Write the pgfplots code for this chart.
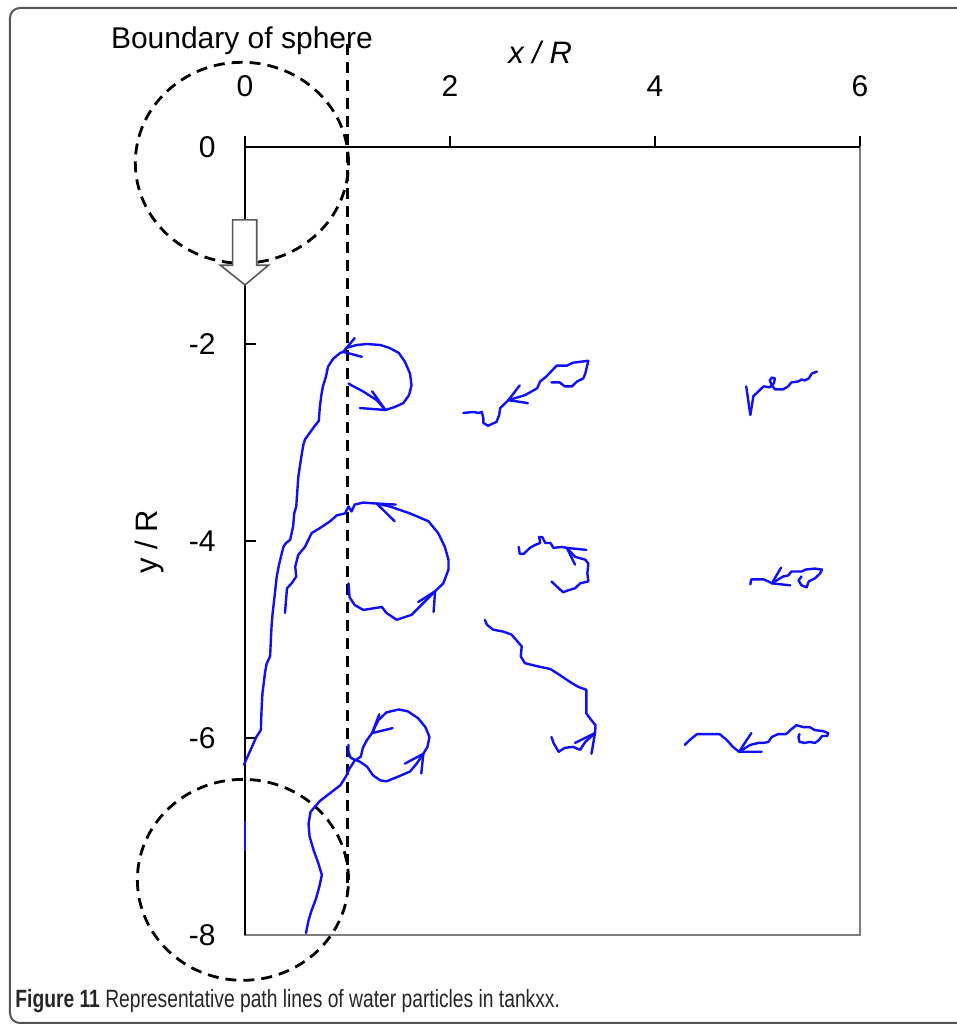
\documentclass[border=0pt]{standalone}
\usepackage{fontspec}
\setmainfont{Liberation Sans}
\usepackage{graphicx}
\usepackage{pgfplots}
\pgfplotsset{compat=1.18}

\definecolor{pathblue}{RGB}{15,15,250}
\definecolor{boxgray}{RGB}{125,125,125}
\definecolor{framegray}{RGB}{85,85,85}

\tikzset{
  boundary/.style={black, line width=1.4pt, dash pattern=on 5.5pt off 3.5pt},
}
\pgfplotsset{
  path/.style={pathblue, line width=1.2pt, line join=round, line cap=round},
}

\begin{document}
\begin{tikzpicture}
\begin{axis}[
  scale only axis,
  width=307.5pt, height=394pt,
  xmin=0, xmax=6, ymin=-8, ymax=0,
  clip=false,
  axis line style={boxgray, line width=0.9pt},
  xtick={0,2,4,6},
  ytick={-8,-6,-4,-2,0},
  yticklabels={-8,-6,-4,-2,0},
  xtick pos=right, xticklabel pos=right,
  ytick pos=left, yticklabel pos=left,
  xtick align=outside, ytick align=inside,
  major tick length=5.5pt,
  every tick/.style={black, line width=0.9pt},
  tick label style={font=\fontsize{15}{18}\selectfont, inner sep=0pt},
  xticklabel style={anchor=south, yshift=19.5pt},
  yticklabel style={anchor=east, xshift=-14.5pt},
  /pgf/number format/assume math mode=true,
]

% left and top spines in black
\draw[black, line width=1.2pt] (axis cs:0,-8) -- (axis cs:0,0) -- (axis cs:6,0);

% sphere outlines and boundary
\draw[boundary] (axis cs:-0.03,-0.16) ellipse [x radius=1.04, y radius=1.02];
\draw[boundary] (axis cs:-0.02,-7.44) ellipse [x radius=1.03, y radius=1.02];
\draw[boundary] (axis cs:1.0,1.05) -- (axis cs:1.0,-7.58);

% open arrow: direction of sphere motion
\draw[fill=white, draw=gray!70!black, line width=0.8pt]
  (axis cs:-0.12,-0.74) -- (axis cs:0.115,-0.74) -- (axis cs:0.115,-1.20)
  -- (axis cs:0.23,-1.20) -- (axis cs:0,-1.40) -- (axis cs:-0.24,-1.20)
  -- (axis cs:-0.12,-1.20) -- cycle;

% path A (upper loop and long trail)
\addplot[path] coordinates {
(1.01,-2.40) (1.04,-2.42) (1.15,-2.48) (1.285,-2.57) (1.37,-2.67) (1.46,-2.64)
(1.545,-2.60) (1.60,-2.52) (1.625,-2.42) (1.61,-2.30) (1.56,-2.18) (1.50,-2.09)
(1.41,-2.04) (1.32,-2.01) (1.19,-2.00) (1.09,-2.01) (0.99,-2.04) (0.96,-2.08)
(0.93,-2.09) (0.86,-2.15) (0.81,-2.23) (0.79,-2.33) (0.76,-2.43) (0.745,-2.52)
(0.73,-2.64) (0.72,-2.78) (0.66,-2.86) (0.62,-2.92) (0.585,-2.97) (0.57,-3.02)
(0.56,-3.08) (0.54,-3.21) (0.53,-3.28) (0.52,-3.35) (0.51,-3.50) (0.50,-3.65)
(0.48,-3.72) (0.47,-3.85) (0.44,-3.99) (0.40,-4.02) (0.375,-4.06) (0.36,-4.12)
(0.33,-4.25) (0.31,-4.36) (0.30,-4.45) (0.29,-4.55) (0.27,-4.73) (0.26,-4.85)
(0.255,-4.95) (0.245,-5.17) (0.21,-5.25) (0.195,-5.34) (0.17,-5.55) (0.16,-5.75)
(0.155,-5.92) (0.11,-5.99) (0.055,-6.12) (-0.01,-6.27)
};
\addplot[path] coordinates {(0,-6.85) (0,-7.14)};
\addplot[path] coordinates {(1.07,-1.94) (0.96,-2.08) (1.14,-2.13)};
\addplot[path] coordinates {(1.24,-2.48) (1.37,-2.67) (1.12,-2.65)};

% path B (middle loop)
\addplot[path] coordinates {
(0.39,-4.73) (0.41,-4.48) (0.455,-4.43) (0.50,-4.36) (0.49,-4.26) (0.52,-4.14)
(0.585,-4.06) (0.65,-3.92) (0.73,-3.87) (0.83,-3.80) (0.895,-3.74) (0.975,-3.72)
(1.01,-3.65) (1.04,-3.70) (1.07,-3.63) (1.155,-3.61) (1.285,-3.62) (1.415,-3.65)
(1.61,-3.72) (1.79,-3.80) (1.885,-3.92) (1.95,-4.06) (1.985,-4.19) (1.985,-4.29)
(1.935,-4.43) (1.855,-4.51) (1.74,-4.63) (1.625,-4.75) (1.48,-4.80) (1.38,-4.73)
(1.335,-4.67) (1.155,-4.70) (1.07,-4.65) (1.02,-4.57) (1.01,-4.43)
};
\addplot[path] coordinates {(1.46,-3.80) (1.285,-3.62) (1.47,-3.63)};
\addplot[path] coordinates {(1.69,-4.62) (1.855,-4.51) (1.84,-4.72)};

% path C (lower loop)
\addplot[path] coordinates {
(0.595,-7.98) (0.62,-7.85) (0.65,-7.75) (0.69,-7.64) (0.725,-7.51) (0.75,-7.39)
(0.715,-7.27) (0.67,-7.14) (0.63,-7.00) (0.62,-6.87) (0.64,-6.75) (0.73,-6.64)
(0.83,-6.56) (0.93,-6.48) (0.985,-6.39) (1.02,-6.31) (1.07,-6.23) (1.13,-6.19)
(1.15,-6.10) (1.19,-6.02) (1.24,-5.95) (1.30,-5.82) (1.38,-5.74) (1.50,-5.71)
(1.59,-5.73) (1.69,-5.80) (1.76,-5.89) (1.80,-5.99) (1.78,-6.09) (1.74,-6.16)
(1.675,-6.26) (1.61,-6.34) (1.50,-6.39) (1.38,-6.44) (1.32,-6.43) (1.25,-6.38)
(1.19,-6.29) (1.12,-6.24) (1.07,-6.22) (1.03,-6.20) (1.01,-6.14) (1.01,-6.07)
};
\addplot[path] coordinates {(1.44,-5.90) (1.24,-5.95) (1.31,-5.76)};
\addplot[path] coordinates {(1.56,-6.26) (1.74,-6.16) (1.72,-6.36)};

% path D
\addplot[path] coordinates {
(2.13,-2.70) (2.23,-2.69) (2.28,-2.70) (2.31,-2.69) (2.325,-2.75) (2.325,-2.80)
(2.37,-2.83) (2.455,-2.79) (2.48,-2.72) (2.49,-2.65) (2.57,-2.57) (2.73,-2.52)
(2.85,-2.45) (2.88,-2.38) (2.94,-2.33) (3.04,-2.22) (3.14,-2.22) (3.20,-2.19)
(3.35,-2.17) (3.32,-2.30) (3.30,-2.35) (3.24,-2.38) (3.19,-2.43) (3.12,-2.43)
(3.07,-2.39) (2.99,-2.39)
};
\addplot[path] coordinates {(2.68,-2.42) (2.57,-2.57) (2.76,-2.60)};

% path E
\addplot[path] coordinates {
(5.58,-2.28) (5.53,-2.30) (5.50,-2.35) (5.46,-2.37) (5.43,-2.36) (5.40,-2.38)
(5.33,-2.39) (5.30,-2.43) (5.25,-2.46) (5.17,-2.46) (5.14,-2.42) (5.12,-2.37)
(5.14,-2.34) (5.17,-2.35) (5.16,-2.40) (5.12,-2.44) (5.06,-2.43) (5.02,-2.47)
(4.96,-2.53) (4.93,-2.72)
};
\addplot[path] coordinates {(4.89,-2.43) (4.93,-2.72)};

% path F
\addplot[path] coordinates {
(2.67,-4.06) (2.68,-4.13) (2.72,-4.13) (2.78,-4.07) (2.83,-4.04) (2.88,-4.02)
(2.87,-3.96) (2.90,-3.96) (2.93,-4.02) (2.98,-4.02) (3.01,-4.07) (3.09,-4.06)
(3.14,-4.07) (3.22,-4.16) (3.32,-4.19) (3.35,-4.23) (3.34,-4.33) (3.35,-4.41)
(3.27,-4.43) (3.22,-4.48) (3.155,-4.50) (3.105,-4.52) (3.06,-4.48) (2.99,-4.41)
};
\addplot[path] coordinates {(3.33,-4.09) (3.14,-4.07) (3.22,-4.24)};

% path G
\addplot[path] coordinates {
(2.34,-4.80) (2.36,-4.85) (2.42,-4.90) (2.52,-4.92) (2.60,-4.95) (2.65,-5.01)
(2.70,-5.07) (2.69,-5.17) (2.73,-5.24) (2.845,-5.27) (2.98,-5.30) (3.07,-5.36)
(3.17,-5.43) (3.25,-5.48) (3.33,-5.51) (3.33,-5.75) (3.38,-5.82) (3.42,-5.87)
(3.415,-5.95) (3.32,-6.04) (3.27,-6.12) (3.20,-6.09) (3.12,-6.10) (3.06,-6.14)
(3.01,-6.05) (2.99,-5.99)
};
\addplot[path] coordinates {(3.22,-6.05) (3.415,-5.95) (3.38,-6.16)};

% path H
\addplot[path] coordinates {
(4.29,-6.07) (4.34,-6.02) (4.41,-5.96) (4.63,-5.96) (4.70,-6.02) (4.76,-6.09)
(4.82,-6.14) (4.93,-6.07) (5.01,-6.05) (5.06,-6.05) (5.105,-6.04) (5.14,-5.99)
(5.20,-5.96) (5.28,-5.96) (5.32,-5.92) (5.38,-5.87) (5.45,-5.89) (5.51,-5.89)
(5.56,-5.92) (5.64,-5.93) (5.69,-5.95) (5.68,-5.98) (5.63,-5.98) (5.60,-6.02)
(5.56,-6.05) (5.51,-6.04) (5.46,-6.05) (5.41,-6.04) (5.40,-5.99) (5.41,-5.96)
};
\addplot[path] coordinates {(4.94,-5.95) (4.82,-6.14) (5.04,-6.14)};

% path I
\addplot[path] coordinates {
(4.93,-4.44) (4.94,-4.39) (5.06,-4.39) (5.105,-4.41) (5.14,-4.43) (5.25,-4.36)
(5.30,-4.35) (5.33,-4.31) (5.43,-4.31) (5.47,-4.29) (5.56,-4.28) (5.63,-4.29)
(5.61,-4.33) (5.56,-4.38) (5.50,-4.41) (5.48,-4.47) (5.43,-4.45) (5.40,-4.40)
(5.43,-4.36)
};
\addplot[path] coordinates {(5.23,-4.27) (5.14,-4.43) (5.32,-4.45)};

% labels
\node[anchor=base, font=\fontsize{15}{18}\selectfont, inner sep=0pt]
  at (axis cs:-0.03,1.005) {Boundary of sphere};
\node[font=\fontsize{15.5}{18}\selectfont\itshape, inner sep=0pt]
  at (axis cs:2.88,0.96) {x / R};
\node[rotate=90, font=\fontsize{15.5}{18}\selectfont, inner sep=0pt]
  at (axis cs:-0.93,-4.01) {y / R};
\end{axis}

% figure frame and caption
\draw[framegray, line width=1pt, rounded corners=5pt]
  (360pt,463.5pt) -- (-117.5pt,463.5pt) -- (-117.5pt,-44pt) -- (360pt,-44pt);
\node[anchor=base west, inner sep=0pt, text=black!85] at (-115pt,-36.5pt)
  {\scalebox{0.77}[1]{\fontsize{12.5}{15}\selectfont\textbf{Figure 11} Representative path lines of water particles in tankxx.}};

\pgfresetboundingbox
\useasboundingbox (-122.5pt,-46.5pt) rectangle (356pt,467.5pt);
\end{tikzpicture}
\end{document}
